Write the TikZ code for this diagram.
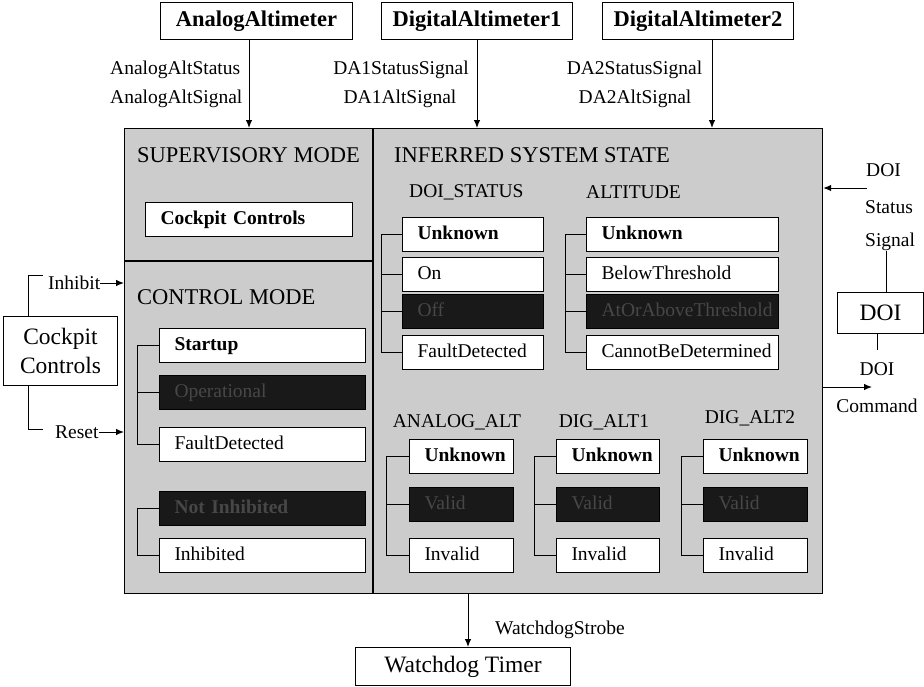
\documentclass[tikz,border=0pt]{standalone}
\usepackage{fontspec}
\setmainfont{Liberation Serif}
\usetikzlibrary{arrows.meta}
\newcommand\fntS{\fontsize{19.5}{22}\selectfont}
\newcommand\fntH{\fontsize{22.5}{26}\selectfont}
\newcommand\fntB{\fontsize{23.5}{29}\selectfont}
\tikzset{
  stbox/.style={draw=black, line width=1pt, fill=white, anchor=north west, inner xsep=15pt, inner ysep=0pt,
    align=left, font=\fntS, minimum height=34pt, text height=13.5pt, text depth=4pt},
  dk/.style={fill=black!90, text=black!72},
  lbl/.style={inner sep=0pt, font=\fntS},
  ttl/.style={inner sep=0pt, font=\fntH, anchor=west},
  bigbox/.style={draw=black, line width=1pt, fill=white, anchor=north west, inner sep=0pt, align=center},
  arr/.style={-{Latex[length=8pt,width=6.5pt]}, line width=1pt},
  ln/.style={line width=1pt}
}
\begin{document}
\begin{tikzpicture}[x=1pt,y=-1pt]
\useasboundingbox (0,0) rectangle (924,686);

% main panel
\node[draw=black, line width=1.2pt, fill=black!20, minimum width=698pt, minimum height=465pt, anchor=north west, inner sep=0pt] (main) at (124,128) {};
\coordinate (dv) at (373,0);
\coordinate (hz) at (373,261);
\draw[line width=1.2pt] (main.north -| dv) -- (main.south -| dv);
\draw[line width=1.2pt] (main.west |- hz) -- (hz);

% top sources
\node[bigbox, minimum width=192pt, minimum height=37pt, font=\fntH\bfseries] (aa) at (160,2) {AnalogAltimeter};
\node[bigbox, minimum width=191pt, minimum height=37pt, font=\fntH\bfseries] (d1) at (381,2) {DigitalAltimeter1};
\node[bigbox, minimum width=191pt, minimum height=37pt, font=\fntH\bfseries] (d2) at (602,2) {DigitalAltimeter2};
\coordinate (ax) at (249,0);
\coordinate (bx) at (477,0);
\coordinate (cx) at (712,0);
\draw[arr] (aa.south -| ax) -- (main.north -| ax);
\draw[arr] (d1.south -| bx) -- (main.north -| bx);
\draw[arr] (d2.south -| cx) -- (main.north -| cx);
\node[lbl, anchor=west] (aas) at (110,70) {AnalogAltStatus};
\node[lbl, anchor=west] (aag) at (110,99) {AnalogAltSignal};
\node[lbl] (d1s) at (401,70) {DA1StatusSignal};
\node[lbl] (d1a) at (400,99) {DA1AltSignal};
\node[lbl] (d2s) at (634.5,70) {DA2StatusSignal};
\node[lbl] (d2a) at (635,99) {DA2AltSignal};

% titles
\node[ttl] (tsup) at (137,155) {SUPERVISORY MODE};
\node[ttl] (tinf) at (394,155) {INFERRED SYSTEM STATE};
\node[ttl] (tctl) at (137,297) {CONTROL MODE};

% supervisory
\node[stbox, text width=177pt, font=\fntS\bfseries] (scc) at (145,202) {\mbox{Cockpit Controls}};

% control mode
\node[stbox, text width=176pt, font=\fntS\bfseries] (c1) at (159,328) {\mbox{Startup}};
\node[stbox, dk, text width=176pt] (c2) at (159,375) {\mbox{Operational}};
\node[stbox, text width=176pt] (c3) at (159,427) {\mbox{FaultDetected}};
\node[stbox, dk, text width=176pt, font=\fntS\bfseries] (c4) at (159,491) {\mbox{Not Inhibited}};
\node[stbox, text width=176pt] (c5) at (159,538) {\mbox{Inhibited}};
\coordinate (bc) at (137,0);
\draw[ln] (c1.west) -- (c1.west -| bc) -- (c3.west -| bc) -- (c3.west);
\draw[ln] (c2.west) -- (c2.west -| bc);
\draw[ln] (c4.west) -- (c4.west -| bc) -- (c5.west -| bc) -- (c5.west);

% DOI_STATUS
\node[lbl, anchor=west] (tds) at (409,192) {DOI\_STATUS};
\node[stbox, text width=111pt, font=\fntS\bfseries] (s1) at (402,217) {\mbox{Unknown}};
\node[stbox, text width=111pt] (s2) at (402,257) {\mbox{On}};
\node[stbox, dk, text width=111pt] (s3) at (402,294) {\mbox{Off}};
\node[stbox, text width=111pt] (s4) at (402,335) {\mbox{FaultDetected}};
\coordinate (bs) at (381,0);
\draw[ln] (s1.west) -- (s1.west -| bs) -- (s4.west -| bs) -- (s4.west);
\draw[ln] (s2.west) -- (s2.west -| bs);
\draw[ln] (s3.west) -- (s3.west -| bs);

% ALTITUDE
\node[lbl, anchor=west] (tal) at (586,192) {ALTITUDE};
\node[stbox, text width=162pt, font=\fntS\bfseries] (a1) at (586,217) {\mbox{Unknown}};
\node[stbox, text width=162pt] (a2) at (586,257) {\mbox{BelowThreshold}};
\node[stbox, dk, text width=162pt] (a3) at (586,294) {\mbox{AtOrAboveThreshold}};
\node[stbox, text width=162pt] (a4) at (586,335) {\mbox{CannotBeDetermined}};
\coordinate (ba) at (565,0);
\draw[ln] (a1.west) -- (a1.west -| ba) -- (a4.west -| ba) -- (a4.west);
\draw[ln] (a2.west) -- (a2.west -| ba);
\draw[ln] (a3.west) -- (a3.west -| ba);

% lower columns
\node[lbl] (tan) at (457,422) {ANALOG\_ALT};
\node[lbl] (tg1) at (604,422) {DIG\_ALT1};
\node[lbl] (tg2) at (750,418) {DIG\_ALT2};

\node[stbox, text width=74pt, font=\fntS\bfseries] (p1) at (409,439) {\mbox{Unknown}};
\node[stbox, dk, text width=74pt] (p2) at (409,487) {\mbox{Valid}};
\node[stbox, text width=74pt] (p3) at (409,538) {\mbox{Invalid}};
\coordinate (bp) at (386,0);
\draw[ln] (p1.west) -- (p1.west -| bp) -- (p3.west -| bp) -- (p3.west);
\draw[ln] (p2.west) -- (p2.west -| bp);

\node[stbox, text width=73pt, font=\fntS\bfseries] (q1) at (556,439) {\mbox{Unknown}};
\node[stbox, dk, text width=73pt] (q2) at (556,487) {\mbox{Valid}};
\node[stbox, text width=73pt] (q3) at (556,538) {\mbox{Invalid}};
\coordinate (bq) at (534,0);
\draw[ln] (q1.west) -- (q1.west -| bq) -- (q3.west -| bq) -- (q3.west);
\draw[ln] (q2.west) -- (q2.west -| bq);

\node[stbox, text width=74pt, font=\fntS\bfseries] (r1) at (703,439) {\mbox{Unknown}};
\node[stbox, dk, text width=74pt] (r2) at (703,487) {\mbox{Valid}};
\node[stbox, text width=74pt] (r3) at (703,538) {\mbox{Invalid}};
\coordinate (br) at (681,0);
\draw[ln] (r1.west) -- (r1.west -| br) -- (r3.west -| br) -- (r3.west);
\draw[ln] (r2.west) -- (r2.west -| br);

% left: cockpit controls
\node[bigbox, minimum width=114pt, minimum height=69pt, font=\fntB] (cc) at (3,316) {Cockpit\\Controls};
\node[lbl, anchor=west] (inh) at (48,283) {Inhibit};
\node[lbl, anchor=west] (rst) at (55,432) {Reset};
\coordinate (lx) at (28,0);
\coordinate (ihk) at (43,275);
\coordinate (rsk) at (43,429);
\draw[ln] (cc.north -| lx) |- (ihk);
\draw[ln] (cc.south -| lx) |- (rsk);
\draw[arr] (inh.east) -- (main.west |- inh.east);
\draw[arr] (rst.east) -- (main.west |- rst.east);

% right: DOI
\node[lbl, anchor=west] (rdoi) at (866,170) {DOI};
\node[lbl, anchor=west] (rsta) at (865,207) {Status};
\node[lbl, anchor=west] (rsig) at (865,242) {Signal};
\coordinate (dsa) at (867,188);
\draw[arr] (dsa) -- (main.east |- dsa);
\node[bigbox, minimum width=86pt, minimum height=41pt, font=\fntB] (doi) at (837,292) {DOI};
\coordinate (sx) at (886,0);
\draw[ln] (rsig.south -| sx) -- (doi.north -| sx);
\coordinate (dlx) at (877,350);
\draw[ln] (doi.south -| dlx) -- (dlx);
\node[lbl] (cdoi) at (877,369) {DOI};
\node[lbl] (ccmd) at (877,406) {Command};
\coordinate (cme) at (872,387);
\draw[arr] (main.east |- cme) -- (cme);

% watchdog
\node[bigbox, minimum width=215pt, minimum height=38pt, font=\fntB] (wd) at (355,647) {Watchdog Timer};
\coordinate (wx) at (468,0);
\draw[arr] (main.south -| wx) -- (wd.north -| wx);
\node[lbl, anchor=west] (wds) at (495,630) {WatchdogStrobe};
\end{tikzpicture}
\end{document}
